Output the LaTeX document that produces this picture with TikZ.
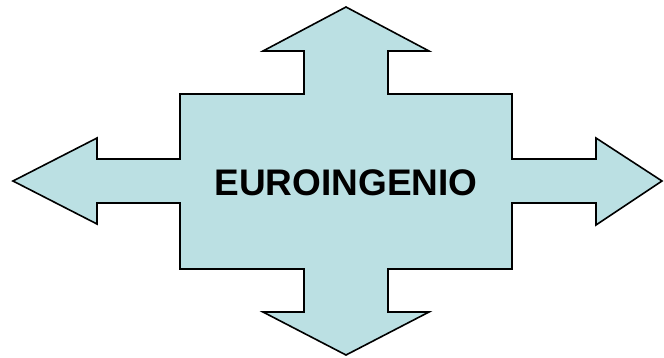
\documentclass[tikz,border=0pt]{standalone}
\usepackage{fontspec}
\setmainfont{Liberation Sans}
\definecolor{arrowfill}{HTML}{BBE0E3}
\begin{document}
\begin{tikzpicture}[x=1pt,y=-1pt,
  shape outline/.style={draw=black,line width=1.6pt,fill=arrowfill,line join=miter},
  label text/.style={font=\fontsize{37}{41}\selectfont\bfseries,text=black,inner sep=0pt}]
\useasboundingbox (0,0) rectangle (664,357);
\draw[shape outline]
  (180,94) -- (304,94) -- (304,51) -- (263,51) -- (346,7) -- (429,51) -- (388,51) -- (388,94)
  -- (512,94) -- (512,159) -- (596,159) -- (596,138) -- (662,181) -- (596,225) -- (596,203) -- (512,203)
  -- (512,269) -- (388,269) -- (388,312) -- (429,312) -- (346,355) -- (263,312) -- (304,312) -- (304,269)
  -- (180,269) -- (180,203) -- (97,203) -- (97,224) -- (13,181) -- (97,138) -- (97,159) -- (180,159) -- cycle;
\node[label text] (title) at (346,183) {EUROINGENIO};
\end{tikzpicture}
\end{document}
